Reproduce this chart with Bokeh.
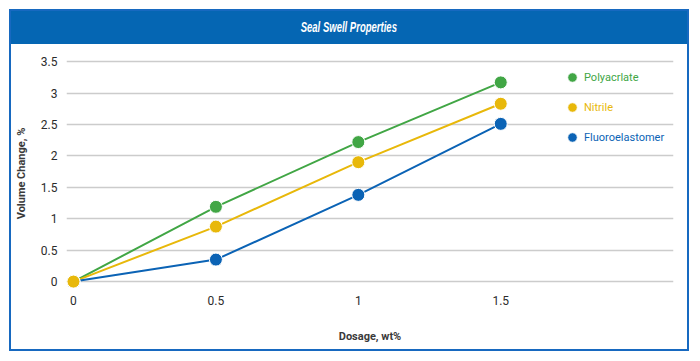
from bokeh.plotting import figure
from bokeh.models import FixedTicker, Legend, LegendItem, Range1d, Div
from bokeh.layouts import column
from bokeh.embed import file_html
from bokeh.resources import INLINE

# ---- data ----
dosage = [0, 0.5, 1, 1.5]
polyacrlate = [0, 1.19, 2.22, 3.17]
nitrile = [0, 0.875, 1.90, 2.83]
fluoroelastomer = [0, 0.35, 1.38, 2.51]
series_names = ["Polyacrlate", "Nitrile", "Fluoroelastomer"]
x_ticks = [0, 0.5, 1, 1.5]
x_tick_labels = ["0", "0.5", "1", "1.5"]
y_ticks = [0, 0.5, 1, 1.5, 2, 2.5, 3, 3.5]
y_tick_labels = ["0", "0.5", "1", "1.5", "2", "2.5", "3", "3.5"]
title_text = "Seal Swell Properties"
x_label = "Dosage, wt%"
y_label = "Volume Change, %"

GREEN = "#41A645"
YELLOW = "#E8B80A"
BLUE = "#0B63B5"
FRAME_BLUE = "#0566B3"
FONT = "Roboto"

p = figure(width=676, height=305, output_backend="svg", toolbar_location=None,
           x_range=Range1d(-0.0245, 2.1065), y_range=Range1d(-0.11, 3.55),
           min_border_left=54, min_border_right=14, min_border_top=14, min_border_bottom=61,
           margin=0)
p.outline_line_color = None
p.background_fill_color = "white"
p.border_fill_color = "white"

# grid
p.xgrid.grid_line_color = None
p.ygrid.grid_line_color = "#cccccc"
p.ygrid.grid_line_width = 1.6
p.yaxis.ticker = FixedTicker(ticks=y_ticks)
p.xaxis.ticker = FixedTicker(ticks=x_ticks)
p.xaxis.major_label_overrides = {t: l for t, l in zip(x_ticks, x_tick_labels)}
p.yaxis.major_label_overrides = {t: l for t, l in zip(y_ticks, y_tick_labels)}

for ax in (p.xaxis[0], p.yaxis[0]):
    ax.axis_line_color = None
    ax.major_tick_line_color = None
    ax.minor_tick_line_color = None
    ax.major_tick_out = 0
    ax.major_tick_in = 0
    ax.minor_tick_out = 0
    ax.minor_tick_in = 0
    ax.major_label_text_font = FONT
    ax.major_label_text_font_size = "12px"
    ax.major_label_text_color = "#2b2b2b"
    ax.axis_label_text_font = FONT
    ax.axis_label_text_font_size = "11px"
    ax.axis_label_text_font_style = "bold"
    ax.axis_label_text_color = "#3a3a3a"

p.xaxis.axis_label = x_label
p.yaxis.axis_label = y_label
p.yaxis.major_label_standoff = 9
p.yaxis.axis_label_standoff = 10
p.xaxis.major_label_standoff = 7
p.xaxis.axis_label_standoff = 22

# lines
p.line(dosage, polyacrlate, line_color=GREEN, line_width=2)
p.line(dosage, nitrile, line_color=YELLOW, line_width=2)
p.line(dosage, fluoroelastomer, line_color=BLUE, line_width=2)

s_g = p.scatter(dosage, polyacrlate, size=13, fill_color=GREEN, line_color="white", line_width=1)
s_b = p.scatter(dosage, fluoroelastomer, size=13, fill_color=BLUE, line_color="white", line_width=1)
s_y = p.scatter(dosage, nitrile, size=13, fill_color=YELLOW, line_color="white", line_width=1)

# legends (one per item so each label can carry its series colour)
for i, (name, rend, col) in enumerate(zip(series_names, [s_g, s_y, s_b], [GREEN, YELLOW, BLUE])):
    lg = Legend(items=[LegendItem(label=name, renderers=[rend])], location=(494, 199 - 30 * i),
                padding=0, margin=0, spacing=0, glyph_width=24, glyph_height=24, label_height=24,
                label_standoff=0, border_line_color=None, background_fill_alpha=0,
                label_text_font=FONT, label_text_font_size="11px", label_text_color=col)
    p.add_layout(lg, "center")

bar = Div(text='<span style="display:inline-block;transform:scaleX(0.68);">' + title_text + '</span>',
          width=676, height=33, margin=0,
          styles={"background-color": FRAME_BLUE, "color": "white",
                  "font-family": "'Liberation Sans', sans-serif", "font-weight": "bold",
                  "font-style": "italic", "font-size": "14px", "text-align": "center",
                  "line-height": "33px", "width": "676px", "height": "33px"})

layout = column(bar, p, spacing=0, margin=(9, 0, 0, 9),
                styles={"border": "2px solid #1769C0"})

open("out.html", "w").write(file_html(layout, INLINE))
